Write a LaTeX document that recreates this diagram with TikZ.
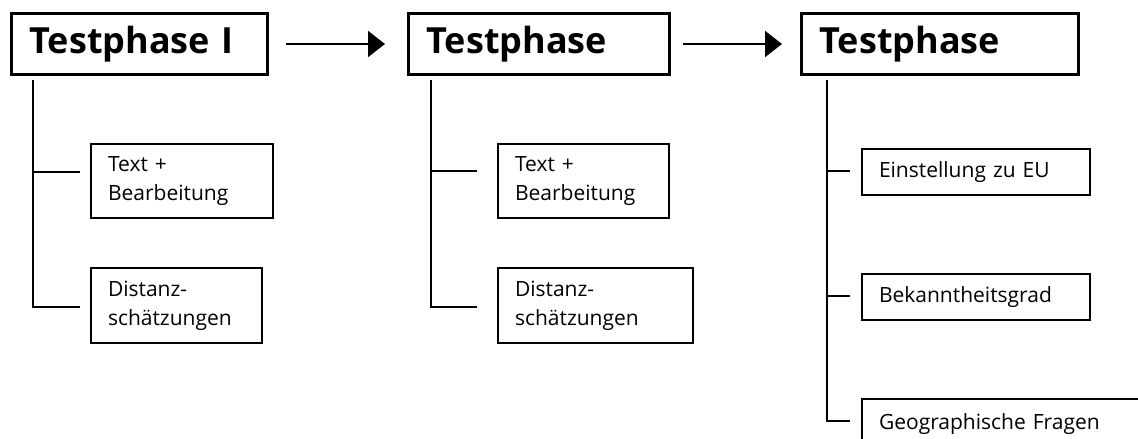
\documentclass[tikz,border=0pt]{standalone}
\usepackage{fontspec}
\setmainfont{Open Sans}
\usetikzlibrary{arrows.meta,calc}
\begin{document}
\begin{tikzpicture}[x=1pt,y=-1pt,
  title/.style={draw, line width=3pt, anchor=north west, inner xsep=18pt, inner ysep=0pt,
    font=\bfseries\fontsize{36}{40}\selectfont, align=left, minimum height=61pt},
  sub/.style={draw, line width=2pt, anchor=north west, inner xsep=17pt, inner ysep=0pt,
    font=\fontsize{21}{29}\selectfont, align=left},
  conn/.style={line width=1.6pt},
  flow/.style={line width=2pt, -{Triangle[length=17pt,width=26pt]}}]
\useasboundingbox (0,0) rectangle (1138,439);
\clip (0,0) rectangle (1138,439);
% title boxes
\node[title, text width=220pt] (h1) at (10,12) {Testphase I};
\node[title, text width=225pt] (h2) at (407,12) {Testphase};
\node[title, text width=241pt] (h3) at (800,12) {Testphase};
% flow arrows
\draw[flow, shorten <=17pt, shorten >=22pt] (h1.east) -- (h2.west);
\draw[flow, shorten <=12pt, shorten >=18pt] (h2.east) -- (h3.west);
% panel 1
\node[sub, text width=148pt, minimum height=74pt] (p1a) at (90,143) {Text +\\Bearbeitung};
\node[sub, text width=137pt, minimum height=75pt] (p1b) at (90,267) {Distanz-\\schätzungen};
\coordinate (v1) at (33,80);
\coordinate (b1a) at (80,172);
\coordinate (b1b) at (80,307);
\draw[conn] (v1) |- (b1b);
\draw[conn] (b1a -| v1) -- (b1a);
% panel 2
\node[sub, text width=137pt, minimum height=74pt] (p2a) at (497,143) {Text +\\Bearbeitung};
\node[sub, text width=161pt, minimum height=75pt] (p2b) at (497,267) {Distanz-\\schätzungen};
\coordinate (v2) at (431,80);
\coordinate (b2a) at (477,171);
\coordinate (b2b) at (477,307);
\draw[conn] (v2) |- (b2b);
\draw[conn] (b2a -| v2) -- (b2a);
% panel 3
\node[sub, text width=194pt, minimum height=46pt] (p3a) at (861,148) {Einstellung zu EU};
\node[sub, text width=194pt, minimum height=46pt] (p3b) at (861,273) {Bekanntheitsgrad};
\node[sub, text width=266pt, minimum height=50pt] (p3c) at (861,398) {Geographische Fragen};
\coordinate (v3) at (827,80);
\coordinate (b3a) at (850,171);
\coordinate (b3b) at (850,296);
\coordinate (b3c) at (850,421);
\draw[conn] (v3) |- (b3c);
\draw[conn] (b3a -| v3) -- (b3a);
\draw[conn] (b3b -| v3) -- (b3b);
\end{tikzpicture}
\end{document}
